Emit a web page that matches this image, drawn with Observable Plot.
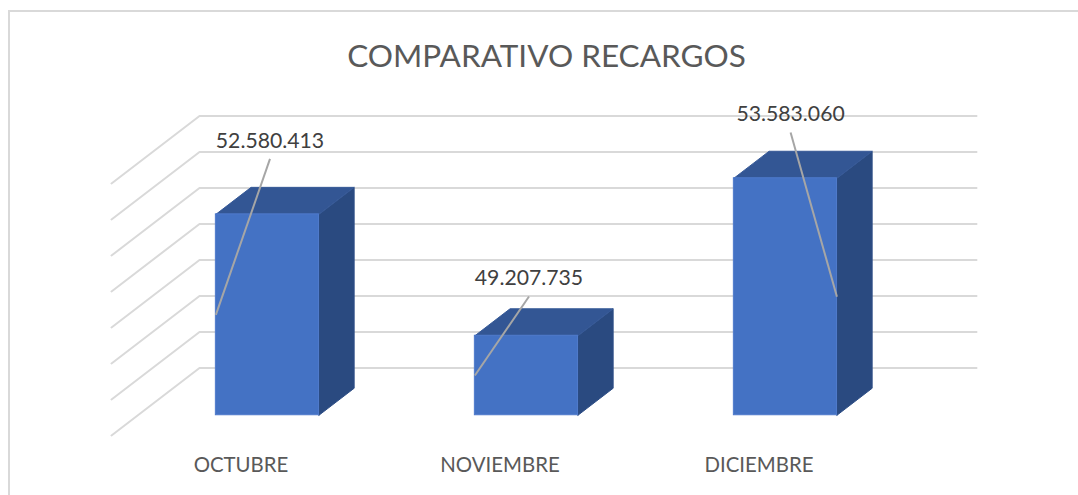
<!DOCTYPE html>
<html>
<head>
<meta charset="utf-8">
<script src="https://cdn.jsdelivr.net/npm/d3@7"></script>
<script src="https://cdn.jsdelivr.net/npm/@observablehq/plot@0.6"></script>
<style>
  html, body { margin: 0; padding: 0; background: #fff; overflow: hidden; }
  #frame { position: absolute; left: 8px; top: 10px; width: 1070px; height: 485px; box-sizing: border-box;
           border-top: 2px solid #d9d9d9; border-left: 2px solid #d9d9d9; }
  #chart { position: absolute; left: 0; top: 0; }
  #chart svg { background: transparent; display: block; }
</style>
</head>
<body>
<div id="frame"></div>
<div id="chart"></div>
<script>
// ---- data ----
const chartTitle = "COMPARATIVO RECARGOS";
const categories = ["OCTUBRE", "NOVIEMBRE", "DICIEMBRE"];
const recargos = [52580413, 49207735, 53583060];
const gridValues = [47e6, 48e6, 49e6, 50e6, 51e6, 52e6, 53e6, 54e6];

// ---- oblique projection, in data units ----
const depthX = 0.3398;    // categories of sideways shift for full depth
const depthY = 1.875e6;   // value units of upward shift for full depth
const barWidth = 0.398;
const barFront = 0.3, barBack = 0.7;  // depth range occupied by a bar
const base = gridValues[0];
const px = (i, off, d) => i + 0.5 + off + d * depthX;
const py = (v, d) => v + d * depthY;

// data-label placement relative to each column
const labelShiftX = [0.01, 0.01, 0.02];
const labelLift = [2.04e6, 1.59e6, 1.77e6];
const leaderDrop = 0.5e6;
const leaderEdge = [-1, -1, 1]; // which side of the front face the leader reaches

const fmt = d3.formatLocale({decimal: ",", thousands: ".", grouping: [3], currency: ["", ""]}).format(",d");

const grid = gridValues.flatMap(v => [
  {v, x: 0, y: v},
  {v, x: depthX, y: py(v, 1)},
  {v, x: 3 + depthX, y: py(v, 1)}
]);

const rows = recargos.map((v, i) => ({
  i, v, cat: categories[i],
  x1: px(i, -barWidth / 2, barFront), x2: px(i, barWidth / 2, barFront),
  y1: py(base, barFront), y2: py(v, barFront)
}));

const sidePts = rows.flatMap(r => {
  const o = barWidth / 2;
  return [
    [o, barFront, base], [o, barBack, base], [o, barBack, r.v], [o, barFront, r.v], [o, barFront, base]
  ].map(([a, d, v]) => ({i: r.i, x: px(r.i, a, d), y: py(v, d)}));
});
const topPts = rows.flatMap(r => {
  const o = barWidth / 2;
  return [
    [-o, barFront], [o, barFront], [o, barBack], [-o, barBack], [-o, barFront]
  ].map(([a, d]) => ({i: r.i, x: px(r.i, a, d), y: py(r.v, d)}));
});

const labels = rows.map(r => {
  const lx = r.i + 0.5 + barFront * depthX + labelShiftX[r.i];
  const ly = py(r.v, barFront) + labelLift[r.i];
  return {
    text: fmt(r.v), lx, ly, ex: lx, ey: ly - leaderDrop,
    ax: leaderEdge[r.i] < 0 ? r.x1 : r.x2,
    ay: (py(base, barFront) + py(r.v, barFront)) / 2
  };
});

const font = "Lato, Carlito, Calibri, sans-serif";

const chart = Plot.plot({
  width: 1078, height: 495,
  marginLeft: 0, marginRight: 0, marginTop: 0, marginBottom: 0,
  style: {fontFamily: font, background: "transparent"},
  x: {domain: [0, 3], range: [111, 888], axis: null},
  y: {domain: [47e6, 54e6], range: [435, 183], axis: null},
  marks: [
    Plot.line(grid, {x: "x", y: "y", z: "v", stroke: "#d9d9d9", strokeWidth: 2, curve: "linear"}),
    Plot.line(sidePts, {x: "x", y: "y", z: "i", fill: "#2a4a80", stroke: "#2d4e86", strokeWidth: 1}),
    Plot.line(topPts, {x: "x", y: "y", z: "i", fill: "#335694", stroke: "#375a98", strokeWidth: 1}),
    Plot.rect(rows, {x1: "x1", x2: "x2", y1: "y1", y2: "y2", fill: "#4472c4", stroke: "#4f7acb", strokeWidth: 1}),
    Plot.link(labels, {x1: "ax", y1: "ay", x2: "ex", y2: "ey", stroke: "#a6a6a6", strokeWidth: 2}),
    Plot.text(labels, {x: "lx", y: "ly", text: "text", fill: "#404040", fontSize: 21.2, textAnchor: "middle", lineAnchor: "middle"}),
    Plot.text(rows, {x: d => d.i + 0.5, y: () => base, text: "cat", dy: 30, fill: "#595959", fontSize: 20.4, textAnchor: "middle", lineAnchor: "middle"}),
    Plot.text([chartTitle], {frameAnchor: "top", dx: 7, dy: 56, fill: "#595959", fontSize: 31.5, textAnchor: "middle", lineAnchor: "middle"})
  ]
});
document.getElementById("chart").appendChild(chart);
</script>
</body>
</html>
